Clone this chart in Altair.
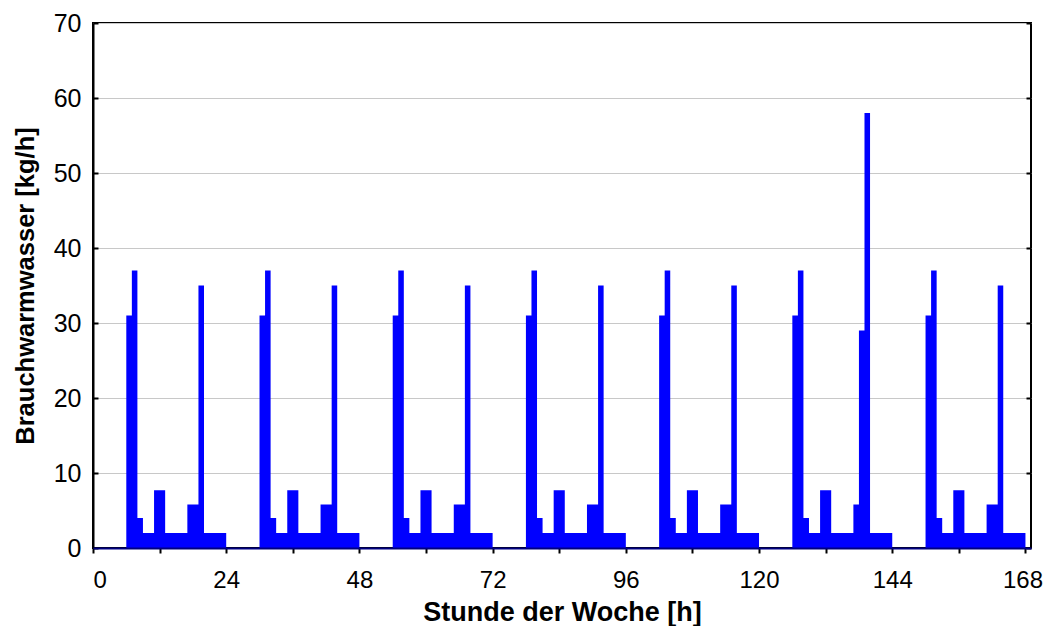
import altair as alt
import pandas as pd

# Hourly values (kg/h) for each day of the week, hours 0..23
day1 = [0, 0, 0, 0, 0, 0, 31, 37, 4, 2, 2, 7.7, 7.7, 2, 2, 2, 2, 5.8, 5.8, 35, 2, 2, 2, 2]
day2 = [0, 0, 0, 0, 0, 0, 31, 37, 4, 2, 2, 7.7, 7.7, 2, 2, 2, 2, 5.8, 5.8, 35, 2, 2, 2, 2]
day3 = [0, 0, 0, 0, 0, 0, 31, 37, 4, 2, 2, 7.7, 7.7, 2, 2, 2, 2, 5.8, 5.8, 35, 2, 2, 2, 2]
day4 = [0, 0, 0, 0, 0, 0, 31, 37, 4, 2, 2, 7.7, 7.7, 2, 2, 2, 2, 5.8, 5.8, 35, 2, 2, 2, 2]
day5 = [0, 0, 0, 0, 0, 0, 31, 37, 4, 2, 2, 7.7, 7.7, 2, 2, 2, 2, 5.8, 5.8, 35, 2, 2, 2, 2]
day6 = [0, 0, 0, 0, 0, 0, 31, 37, 4, 2, 2, 7.7, 7.7, 2, 2, 2, 2, 5.8, 29, 58, 2, 2, 2, 2]
day7 = [0, 0, 0, 0, 0, 0, 31, 37, 4, 2, 2, 7.7, 7.7, 2, 2, 2, 2, 5.8, 5.8, 35, 2, 2, 2, 2]
days = [day1, day2, day3, day4, day5, day6, day7]

x_ticks = [0, 12, 24, 36, 48, 60, 72, 84, 96, 108, 120, 132, 144, 156, 168]
y_ticks = [0, 10, 20, 30, 40, 50, 60, 70]

# One point per hour start; the last hour also gets its end point (step-after)
pts = []
for d, vals in enumerate(days):
    for h, v in enumerate(vals):
        pts.append({"t": d * 24 + h, "value": v})
pts.append({"t": len(days) * 24, "value": days[-1][-1]})
df = pd.DataFrame(pts)

W, H = 938, 525
FONT = "Liberation Sans"

xscale = alt.Scale(domain=[0, 169], nice=False, zero=False)
yscale = alt.Scale(domain=[0, 70], nice=False)

area = alt.Chart(df).mark_area(color="#0000FF", opacity=1, interpolate="step-after").encode(
    x=alt.X(
        "t:Q",
        scale=xscale,
        axis=alt.Axis(
            values=x_ticks,
            labelExpr="datum.value % 24 == 0 ? datum.label : ''",
            format="d",
            title="Stunde der Woche [h]",
            titleY=72,
            titleBaseline="alphabetic",
            titleFontSize=27,
            titleFontWeight="bold",
            titleColor="black",
            labelFontSize=24,
            labelColor="black",
            labelPadding=15,
            labelOffset={"condition": {"test": "datum.value == 168", "value": -3}, "value": 0},
            tickSize=5,
            tickWidth=2,
            tickColor="black",
            domainColor="#000080",
            domainWidth=2,
            grid=False,
            zindex=1,
        ),
    ),
    y=alt.Y(
        "value:Q",
        scale=yscale,
        axis=alt.Axis(
            values=y_ticks,
            format="d",
            title="Brauchwarmwasser [kg/h]",
            titleX=-60,
            titleY=H / 2,
            titleAngle=270,
            titleBaseline="alphabetic",
            titleFontSize=25.5,
            titleFontWeight="bold",
            titleColor="black",
            labelFontSize=25,
            labelColor="black",
            labelPadding=12,
            tickSize=0,
            domainColor="black",
            domainWidth=2,
            grid=True,
            gridColor="#c8c8c8",
            gridWidth=1,
        ),
    ),
)

ticks_left = alt.Chart(df).mark_rule(opacity=0).encode(
    y=alt.Y(
        "value:Q",
        scale=yscale,
        axis=alt.Axis(
            orient="right", offset=-W, values=y_ticks, tickSize=5, tickWidth=2,
            tickColor="black", labels=False, domain=False, grid=False, title=None,
        ),
    )
)

ticks_right = alt.Chart(df).mark_rule(opacity=0).encode(
    y=alt.Y(
        "value:Q",
        scale=yscale,
        axis=alt.Axis(
            orient="left", offset=-W, values=y_ticks, tickSize=5, tickWidth=2,
            tickColor="black", labels=False, domain=False, grid=False, title=None,
        ),
    )
)

chart = (
    alt.layer(area, ticks_left, ticks_right)
    .resolve_scale(y="independent")
    .resolve_axis(y="independent")
    .properties(
        width=W,
        height=H,
        autosize=alt.AutoSizeParams(type="none"),
        padding={"left": 85, "top": 15, "right": 13, "bottom": 78},
    )
    .configure(font=FONT)
    .configure_view(stroke="black", strokeWidth=2)
)

chart.save("out.html", embed_options={"renderer": "svg", "actions": False})
